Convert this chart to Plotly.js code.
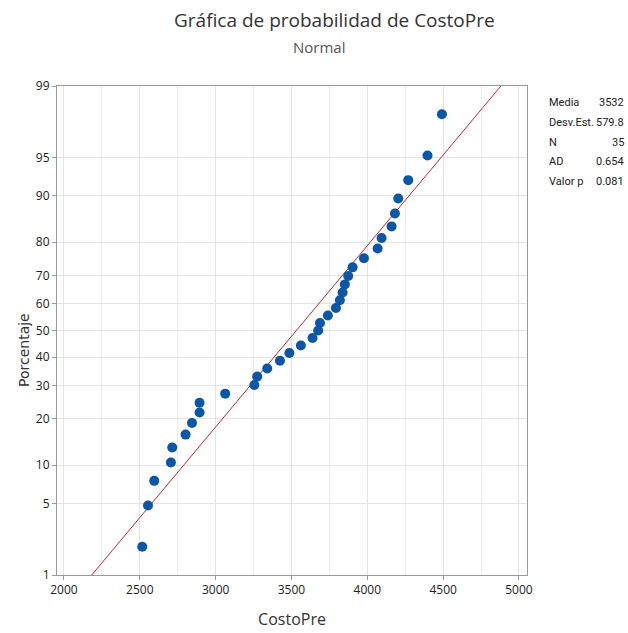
<!DOCTYPE html>
<html>
<head>
<meta charset="utf-8">
<script src="https://cdn.plot.ly/plotly-3.0.1.min.js"></script>
<style>html,body{margin:0;padding:0;background:#fff;}#chart{width:628px;height:633px;}</style>
</head>
<body>
<div id="chart"></div>
<script>
// Data
const costoPre = [2516, 2554, 2595, 2705, 2714, 2802, 2844, 2894, 2894, 3063,
                  3255, 3274, 3340, 3424, 3486, 3562, 3639, 3676, 3688, 3740,
                  3793, 3819, 3837, 3852, 3874, 3903, 3978, 4068, 4094, 4160,
                  4182, 4204, 4270, 4397, 4492];
const porcentaje = [1.98, 4.80, 7.63, 10.45, 13.28, 16.10, 18.93, 21.75, 24.58, 27.40,
                    30.23, 33.05, 35.88, 38.70, 41.53, 44.35, 47.18, 50.00, 52.82, 55.65,
                    58.47, 61.30, 64.12, 66.95, 69.77, 72.60, 75.42, 78.25, 81.07, 83.90,
                    86.72, 89.55, 92.37, 95.20, 98.02];
const yTickPct = [1, 5, 10, 20, 30, 40, 50, 60, 70, 80, 90, 95, 99];
const xTicks = [2000, 2500, 3000, 3500, 4000, 4500, 5000];
const statLabels = ["Media", "Desv.Est.", "N", "AD", "Valor p"];
const statValues = ["3532", "579.8", "35", "0.654", "0.081"];
const media = 3532, desv = 579.8;

// inverse normal CDF (Acklam)
function probit(p) {
  const a = [-3.969683028665376e+01, 2.209460984245205e+02, -2.759285104469687e+02, 1.383577518672690e+02, -3.066479806614716e+01, 2.506628277459239e+00];
  const b = [-5.447609879822406e+01, 1.615858368580409e+02, -1.556989798598866e+02, 6.680131188771972e+01, -1.328068155288572e+01];
  const c = [-7.784894002430293e-03, -3.223964580411365e-01, -2.400758277161838e+00, -2.549732539343734e+00, 4.374664141464968e+00, 2.938163982698783e+00];
  const d = [7.784695709041462e-03, 3.224671290700398e-01, 2.445134137142996e+00, 3.754408661907416e+00];
  const pl = 0.02425, ph = 1 - pl;
  let q, r;
  if (p < pl) { q = Math.sqrt(-2 * Math.log(p));
    return (((((c[0]*q+c[1])*q+c[2])*q+c[3])*q+c[4])*q+c[5]) / ((((d[0]*q+d[1])*q+d[2])*q+d[3])*q+1); }
  if (p > ph) { q = Math.sqrt(-2 * Math.log(1 - p));
    return -(((((c[0]*q+c[1])*q+c[2])*q+c[3])*q+c[4])*q+c[5]) / ((((d[0]*q+d[1])*q+d[2])*q+d[3])*q+1); }
  q = p - 0.5; r = q * q;
  return (((((a[0]*r+a[1])*r+a[2])*r+a[3])*r+a[4])*r+a[5])*q / (((((b[0]*r+b[1])*r+b[2])*r+b[3])*r+b[4])*r+1);
}

const zPts = porcentaje.map(p => probit(p / 100));
const zLo = probit(0.01), zHi = probit(0.99);
const lineZ = [zLo, zHi];
const lineX = lineZ.map(z => media + desv * z);

const fontFam = "'Open Sans', 'Noto Sans', sans-serif";
const narrowFam = "'Roboto', sans-serif";
const traces = [
  { x: lineX, y: lineZ, mode: 'lines', type: 'scatter', line: { color: '#c0282d', width: 1 }, hoverinfo: 'skip' },
  { x: costoPre, y: zPts, mode: 'markers', type: 'scatter', marker: { color: '#0a56a8', size: 10 } }
];

const annotations = [
  { text: 'Gráfica de probabilidad de CostoPre', xref: 'paper', yref: 'paper', x: 0.591, y: 1.135, showarrow: false,
    font: { family: fontFam, size: 19, color: '#333' }, xanchor: 'center', yanchor: 'middle' },
  { text: 'Normal', xref: 'paper', yref: 'paper', x: 0.557, y: 1.08, showarrow: false,
    font: { family: fontFam, size: 15, color: '#555' }, xanchor: 'center', yanchor: 'middle' },
  { text: 'Porcentaje', xref: 'paper', yref: 'paper', x: (24 - 57) / 470, y: (575 - 350) / 489, showarrow: false,
    textangle: -90, xanchor: 'center', yanchor: 'middle',
    font: { family: "'DejaVu Sans', sans-serif", size: 14, color: '#333' } }
];
statLabels.forEach((lab, i) => {
  const yy = (575 - (103 + i * 19.5)) / 489;
  annotations.push({ text: lab, xref: 'paper', yref: 'paper', x: (547 - 57) / 470, y: yy, showarrow: false,
    xanchor: 'left', yanchor: 'middle', font: { family: narrowFam, size: 11, color: '#222' } });
  annotations.push({ text: statValues[i], xref: 'paper', yref: 'paper', x: (626 - 57) / 470, y: yy, showarrow: false,
    xanchor: 'right', yanchor: 'middle', font: { family: narrowFam, size: 11, color: '#222' } });
});

const layout = {
  width: 628, height: 633,
  margin: { l: 57, r: 101, t: 86, b: 58 },
  paper_bgcolor: '#fff', plot_bgcolor: '#fff',
  showlegend: false,
  font: { family: fontFam, color: '#222' },
  xaxis: {
    range: [1954, 5053], tickvals: xTicks, ticktext: xTicks.map(String),
    showgrid: true, gridcolor: '#e4e4e4', gridwidth: 1,
    minor: { dtick: 250, tick0: 2000, showgrid: true, gridcolor: '#ececec', ticks: '' },
    ticks: 'outside', ticklen: 4, tickcolor: '#999',
    showline: true, linecolor: '#999', mirror: true, zeroline: false,
    tickfont: { family: fontFam, size: 12, color: '#222' },
    title: { text: 'CostoPre', font: { family: fontFam, size: 16, color: '#333' }, standoff: 16 }
  },
  yaxis: {
    range: [zLo, zHi], tickvals: yTickPct.map(p => probit(p / 100)), ticktext: yTickPct.map(String),
    showgrid: true, gridcolor: '#e4e4e4', gridwidth: 1,
    ticks: 'outside', ticklen: 4, tickcolor: '#999',
    showline: true, linecolor: '#999', mirror: true, zeroline: false,
    tickfont: { family: fontFam, size: 12, color: '#222' }
  },
  annotations: annotations
};

Plotly.newPlot('chart', traces, layout, { displayModeBar: false, staticPlot: true });
</script>
</body>
</html>
